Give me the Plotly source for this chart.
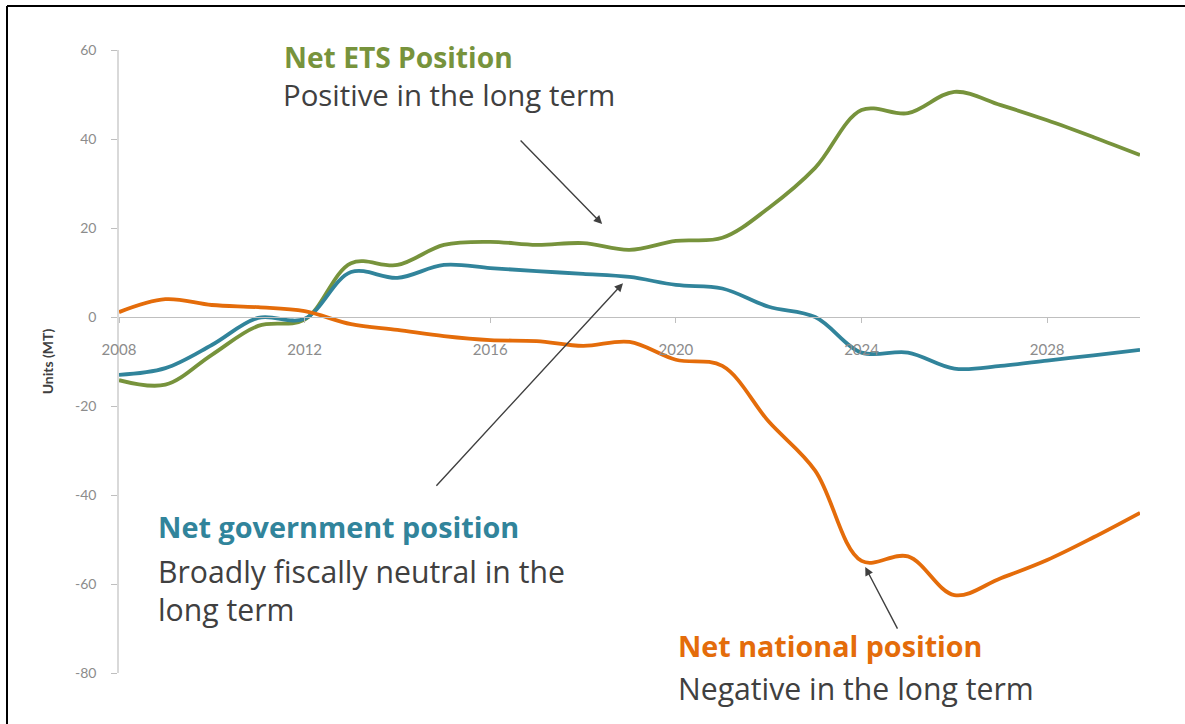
import plotly.graph_objects as go

years = list(range(2008, 2031))
ets = [-14.2, -15.2, -8.5, -2.0, -0.6, 12.1, 11.7, 16.2, 16.9, 16.2, 16.6, 15.1, 17.1, 17.8,
       24.5, 33.5, 46.5, 45.8, 50.6, 47.6, 44.2, 40.4, 36.4]
gov = [-13.0, -11.5, -6.3, -0.2, -0.4, 10.1, 8.8, 11.7, 11.0, 10.3, 9.7, 9.0, 7.2, 6.4,
       2.3, 0.0, -8.0, -8.0, -11.6, -11.0, -9.8, -8.6, -7.4]
nat = [1.1, 4.0, 2.7, 2.2, 1.3, -1.6, -2.9, -4.3, -5.2, -5.4, -6.5, -5.6, -9.6, -11.0,
       -23.5, -34.5, -54.8, -53.8, -62.5, -58.7, -54.6, -49.5, -44.0]

xticks = [2008, 2012, 2016, 2020, 2024, 2028]
yticks = [60, 40, 20, 0, -20, -40, -60, -80]

GREEN = "#77933C"
TEAL = "#31849B"
ORANGE = "#E46C0A"
DARK = "#404040"
TFONT = "Open Sans"
AFONT = "Lato"

W, H = 1185, 724
L, R, T, B = 119, 1140, 50, 673


def px(x):
    return (x - L) / (R - L)


def py(y):
    return (B - y) / (B - T)


fig = go.Figure()
for name, vals, col in [("Net ETS Position", ets, GREEN),
                        ("Net government position", gov, TEAL),
                        ("Net national position", nat, ORANGE)]:
    fig.add_trace(go.Scatter(x=years, y=vals, mode="lines", name=name,
                             line=dict(color=col, width=3.8, shape="spline", smoothing=1.0)))

texts = [
    ("Net ETS Position", 282, 57, GREEN, True, 28.2),
    ("Positive in the long term", 281, 95, DARK, False, 29.4),
    ("Net government position", 156, 526, TEAL, True, 28.8),
    ("Broadly fiscally neutral in the", 156, 571, DARK, False, 30.2),
    ("long term", 156, 609, DARK, False, 30.2),
    ("Net national position", 676, 645, ORANGE, True, 28.7),
    ("Negative in the long term", 676, 688, DARK, False, 30.2),
]
ann = []
for t, x, y, c, b, s in texts:
    ann.append(dict(text=("<b>%s</b>" % t) if b else t, x=px(x), y=py(y), xref="paper", yref="paper",
                    xanchor="left", yanchor="middle", showarrow=False,
                    font=dict(family=TFONT, size=s, color=c)))

# arrows: tip in data coords, tail as pixel offset
arrows = [(2018.41, 20.9, -83, -85), (2018.86, 7.6, -188, 204), (2024.08, -56.2, 33, 63)]
for x, y, ax, ay in arrows:
    ann.append(dict(x=x, y=y, ax=ax, ay=ay, xref="x", yref="y", text="", showarrow=True,
                    arrowhead=2, arrowsize=1.2, arrowwidth=1.4, arrowcolor=DARK, standoff=0))

fig.update_layout(
    width=W, height=H,
    margin=dict(l=L, r=W - R, t=T, b=H - B),
    paper_bgcolor="white", plot_bgcolor="white",
    showlegend=False,
    annotations=ann,
    shapes=[
        dict(type="line", xref="paper", yref="paper", x0=px(7), x1=px(1190), y0=py(6), y1=py(6),
             line=dict(color="black", width=2)),
        dict(type="line", xref="paper", yref="paper", x0=px(7), x1=px(7), y0=py(6), y1=py(730),
             line=dict(color="black", width=2)),
    ],
    xaxis=dict(range=[2008, 2030], anchor="free", position=80 / 140,
               tickvals=xticks, ticktext=[str(v) for v in xticks],
               showline=True, linecolor="#BFBFBF", linewidth=1.2,
               ticks="outside", ticklen=5, tickcolor="#BFBFBF",
               ticklabelstandoff=14, showgrid=False, zeroline=False,
               tickfont=dict(family=AFONT, size=15, color="#8C8C8C")),
    yaxis=dict(range=[-80, 60], tickvals=yticks, ticktext=[str(v) for v in yticks],
               showline=True, linecolor="#D9D9D9", linewidth=1.5,
               ticks="outside", ticklen=6, tickcolor="#BFBFBF",
               ticklabelstandoff=12, showgrid=False, zeroline=False,
               tickfont=dict(family=AFONT, size=14, color="#8C8C8C"),
               title=dict(text="<b>Units (MT)</b>", standoff=18,
                          font=dict(family=AFONT, size=14, color=DARK))),
)

fig.write_html("out.html")
